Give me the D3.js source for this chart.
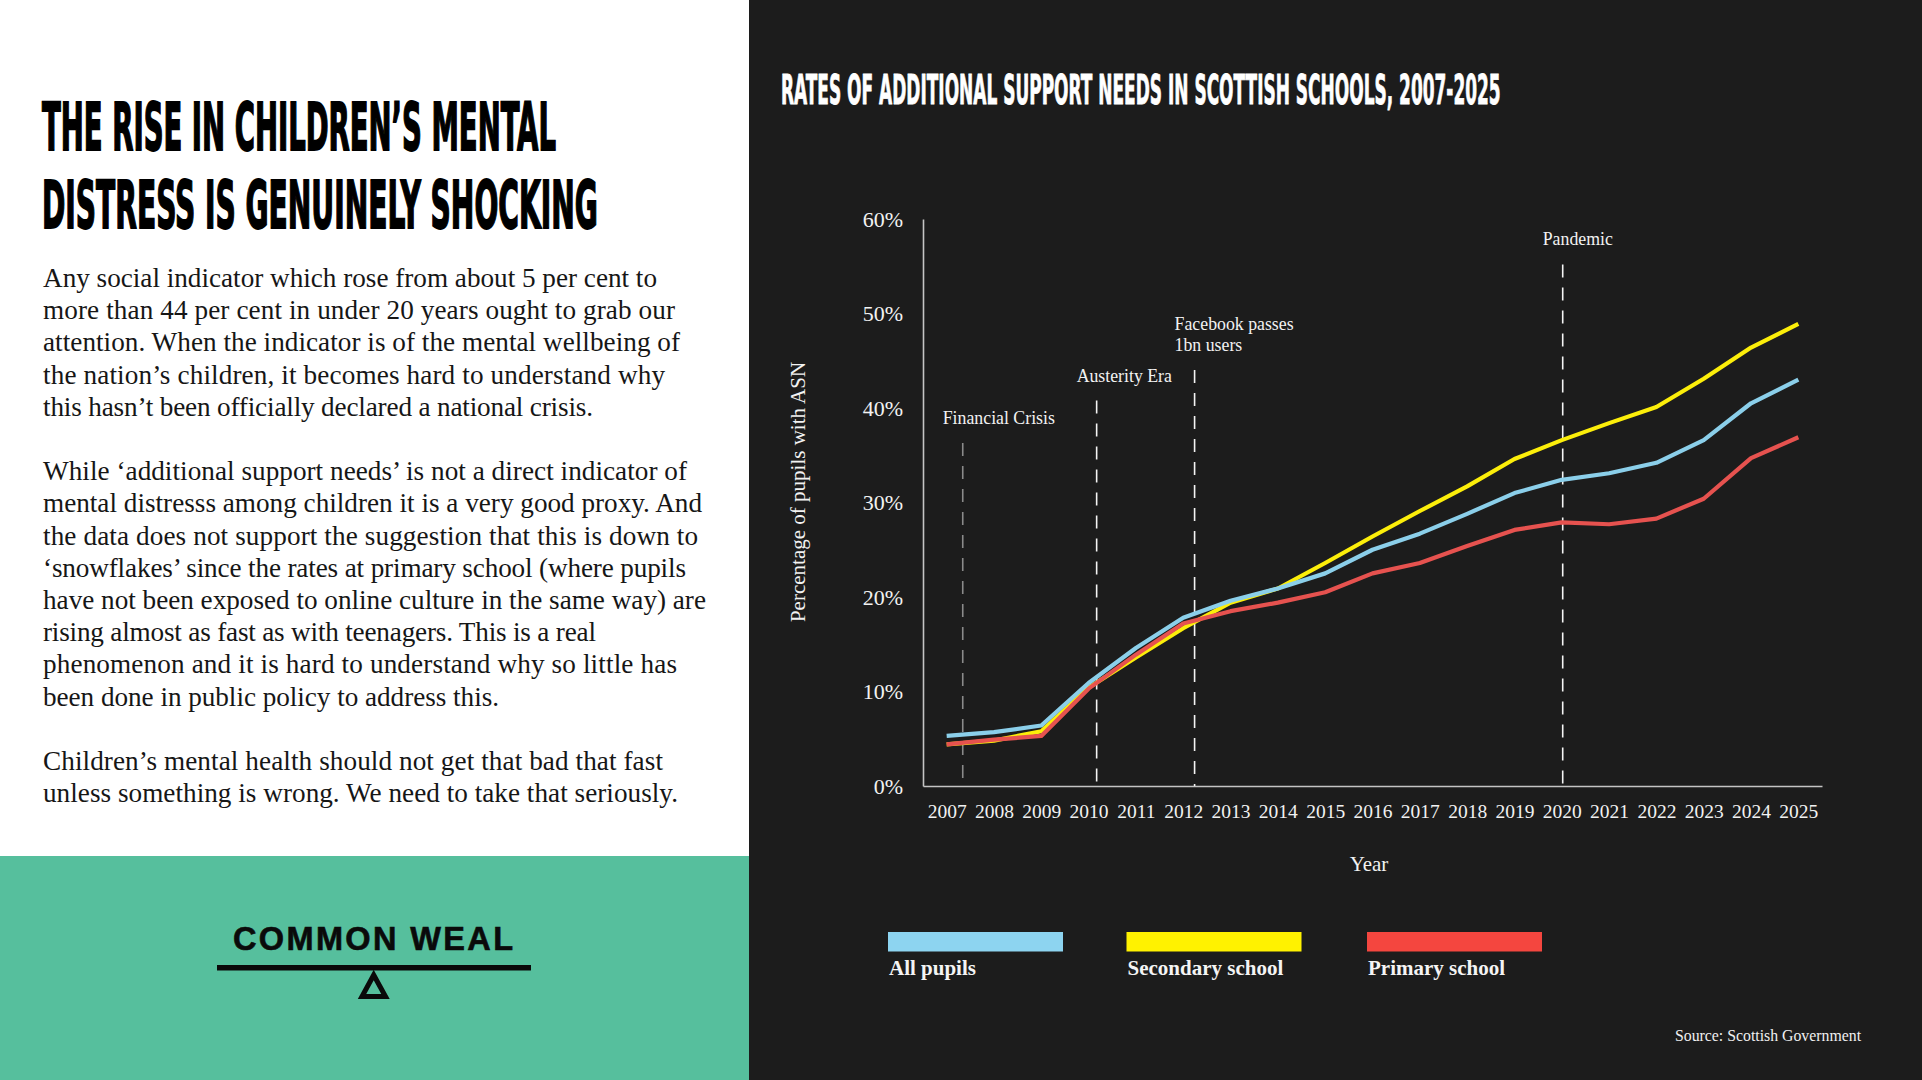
<!DOCTYPE html>
<html><head><meta charset="utf-8">
<script src="https://cdn.jsdelivr.net/npm/d3@7/dist/d3.min.js"></script>
<style>
html,body{margin:0;padding:0;background:#1c1c1c;overflow:hidden}
svg{display:block}
</style></head><body>
<svg id="chart" width="1922" height="1080"></svg>
<script>
// ---------------- DATA ----------------
const years = [2007,2008,2009,2010,2011,2012,2013,2014,2015,2016,2017,2018,2019,2020,2021,2022,2023,2024,2025];
const allPupils = [5.3,5.7,6.4,10.9,14.6,17.8,19.6,20.9,22.5,25.0,26.7,28.8,31.0,32.4,33.1,34.2,36.6,40.5,43.0];
const secondary = [4.4,4.8,5.8,10.4,13.6,16.7,19.4,20.9,23.6,26.4,29.1,31.7,34.6,36.6,38.4,40.1,43.1,46.4,48.9];
const primary   = [4.4,4.9,5.3,10.3,13.9,17.2,18.5,19.4,20.5,22.5,23.6,25.4,27.1,27.9,27.7,28.3,30.4,34.7,36.9];
const seriesNames = ["All pupils","Secondary school","Primary school"];
const yTicks = [0,10,20,30,40,50,60];
const eventLabels = [["Financial Crisis"],["Austerity Era"],["Facebook passes","1bn users"],["Pandemic"]];
const eventYears = [2007.34,2010.17,2012.24,2020.02];
const eventLevels = [38.3,42.8,48.3,57.2];

const headlineLines = ["THE RISE IN CHILDREN\u2019S MENTAL","DISTRESS IS GENUINELY SHOCKING"];
const bodyLines = [
 "Any social indicator which rose from about 5 per cent to",
 "more than 44 per cent in under 20 years ought to grab our",
 "attention. When the indicator is of the mental wellbeing of",
 "the nation\u2019s children, it becomes hard to understand why",
 "this hasn\u2019t been officially declared a national crisis.",
 "",
 "While \u2018additional support needs\u2019 is not a direct indicator of",
 "mental distresss among children it is a very good proxy. And",
 "the data does not support the suggestion that this is down to",
 "\u2018snowflakes\u2019 since the rates at primary school (where pupils",
 "have not been exposed to online culture in the same way) are",
 "rising almost as fast as with teenagers. This is a real",
 "phenomenon and it is hard to understand why so little has",
 "been done in public policy to address this.",
 "",
 "Children\u2019s mental health should not get that bad that fast",
 "unless something is wrong. We need to take that seriously."
];
const chartTitle = "RATES OF ADDITIONAL SUPPORT NEEDS IN SCOTTISH SCHOOLS, 2007-2025";
const sourceText = "Source: Scottish Government";
const logoText = "COMMON WEAL";

// ---------------- LAYOUT / STYLE ----------------
const W = 1922, H = 1080;
const bodyWidths = [614,632,637,622,550,0,644,659,655,643,663,553,634,456,0,620,635];
const lineColors = ["#8bcfea","#fcee0a","#e6524f"];
const legendColors = ["#8dd4f0","#fff200","#f4463f"];
const headFont = "'Liberation Sans Narrow','DejaVu Sans Condensed','DejaVu Sans',sans-serif";
const serif = "'Liberation Serif','Times New Roman',serif";

const svg = d3.select("#chart");
svg.append("rect").attr("width",W).attr("height",H).attr("fill","#1c1c1c");
svg.append("rect").attr("x",0).attr("y",0).attr("width",749).attr("height",856).attr("fill","#ffffff");
svg.append("rect").attr("x",0).attr("y",856).attr("width",749).attr("height",224).attr("fill","#56bf9d");

// squeeze a text horizontally to a target width using a transform
function fitWidth(sel, x, y, target){
  const nat = sel.node().getComputedTextLength();
  sel.attr("x",0).attr("y",0).attr("transform",`translate(${x},${y}) scale(${target/nat},1)`);
  return sel;
}

// Headline
const headWidths = [514,556];
const headY = [150,228];
headlineLines.forEach((t,i)=>{
  const s = svg.append("text")
    .attr("font-family",headFont).attr("font-weight",700).attr("font-size",66)
    .attr("fill","#000").attr("stroke","#000").attr("stroke-width",1.8)
    .text(t);
  fitWidth(s, 42, headY[i], headWidths[i]);
});

// Body text
const bodyG = svg.append("g");
const bodyTexts = bodyLines.map((t,k)=> bodyG.append("text")
    .attr("x",43).attr("y",287 + k*32.2)
    .attr("font-family",serif).attr("font-size",25).attr("fill","#161616").text(t));
let nat = 0, tgt = 0;
bodyTexts.forEach((s,k)=>{ if(bodyLines[k]){ nat += s.node().getComputedTextLength(); tgt += bodyWidths[k]; }});
let fs = Math.max(21, Math.min(28, 25 * tgt / nat));
bodyTexts.forEach((s,k)=>{
  s.attr("font-size",fs);
  if(bodyLines[k]) s.attr("textLength",bodyWidths[k]).attr("lengthAdjust","spacing");
});

// Logo
svg.append("text").attr("x",233).attr("y",950)
  .attr("font-family","'Liberation Sans',Arial,sans-serif").attr("font-weight",700)
  .attr("font-size",32.5).attr("textLength",280).attr("lengthAdjust","spacing")
  .attr("fill","#0a0a0a").attr("stroke","#0a0a0a").attr("stroke-width",0.6).text(logoText);
svg.append("rect").attr("x",217).attr("y",965).attr("width",314).attr("height",5.5).attr("fill","#0a0a0a");
svg.append("path").attr("d","M362,996.5 L385.5,996.5 L373.7,975 Z")
  .attr("fill","none").attr("stroke","#0a0a0a").attr("stroke-width",5).attr("stroke-linejoin","miter");

// Chart title
const titleSel = svg.append("text")
  .attr("font-family",headFont).attr("font-weight",700).attr("font-size",41)
  .attr("fill","#ffffff").attr("stroke","#ffffff").attr("stroke-width",0.8)
  .text(chartTitle);
fitWidth(titleSel, 781, 104, 720);

// Scales
const x = d3.scalePoint().domain(years).range([923,1822]).padding(0.5);
const xLin = d3.scaleLinear().domain([years[0], years[years.length-1]]).range([x(years[0]), x(years[years.length-1])]);
const y = d3.scaleLinear().domain([0,60]).range([786,219]);

// Axes
const yAxis = svg.append("g").attr("transform","translate(923,0)")
  .call(d3.axisLeft(y).tickValues(yTicks).tickFormat(d=>d+"%").tickSize(0).tickSizeOuter(0).tickPadding(20));
const xAxis = svg.append("g").attr("transform","translate(0,786)")
  .call(d3.axisBottom(x).tickSize(0).tickSizeOuter(0).tickPadding(18));
[yAxis,xAxis].forEach(a=>{
  a.select(".domain").attr("stroke","#c4c4c4").attr("stroke-width",1.6);
  a.selectAll("text").attr("fill","#f2f2f2").attr("font-family",serif);
});
yAxis.selectAll("text").attr("font-size",22);
xAxis.selectAll("text").attr("font-size",19.5);

// Axis titles
svg.append("text").attr("transform","translate(805,492) rotate(-90)")
  .attr("text-anchor","middle").attr("font-family",serif).attr("font-size",21)
  .attr("fill","#f2f2f2").text("Percentage of pupils with ASN");
svg.append("text").attr("x",1369).attr("y",871).attr("text-anchor","middle")
  .attr("font-family",serif).attr("font-size",21).attr("fill","#f2f2f2").text("Year");

// Event annotations
eventYears.forEach((ev,i)=>{
  const ex = xLin(ev);
  const baseY = y(eventLevels[i]);
  const lines = eventLabels[i];
  lines.forEach((t,j)=>{
    svg.append("text").attr("x",ex-20).attr("y",baseY + j*21.5)
      .attr("font-family",serif).attr("font-size",17.8).attr("fill","#f2f2f2").text(t);
  });
  const top = baseY + (lines.length-1)*21.5 + 19;
  svg.append("line").attr("x1",ex).attr("x2",ex).attr("y1",top).attr("y2",y(0))
    .attr("stroke", i===0 ? "#8a8a8a" : "#f4f4f4").attr("stroke-width",1.6)
    .attr("stroke-dasharray","13,10");
});

// Lines
const seriesVals = [allPupils, secondary, primary];
const line = d3.line().x(d=>x(d[0])).y(d=>y(d[1]));
[1,2,0].forEach(si=>{
  const pts = years.map((yr,i)=>[yr, seriesVals[si][i]]);
  svg.append("path").datum(pts).attr("d",line)
    .attr("fill","none").attr("stroke",lineColors[si]).attr("stroke-width",4.2)
    .attr("stroke-linejoin","round");
});

// Legend
const legX = [888,1126.5,1367];
seriesNames.forEach((n,i)=>{
  svg.append("rect").attr("x",legX[i]).attr("y",932).attr("width",175).attr("height",19.5).attr("fill",legendColors[i]);
  svg.append("text").attr("x",legX[i]+1).attr("y",975)
    .attr("font-family",serif).attr("font-weight",700).attr("font-size",21)
    .attr("fill","#f4f4f4").text(n);
});

// Source
svg.append("text").attr("x",1675).attr("y",1041).attr("font-family",serif)
  .attr("font-size",15.8).attr("fill","#f0f0f0").text(sourceText);
</script>
</body></html>
